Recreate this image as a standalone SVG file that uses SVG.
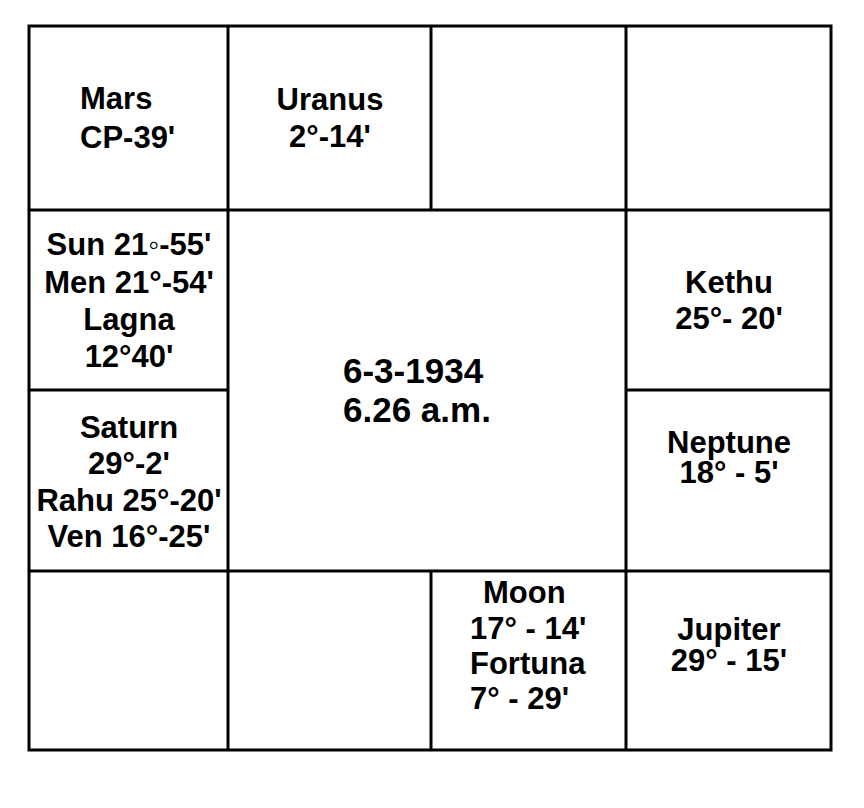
<svg xmlns="http://www.w3.org/2000/svg" width="864" height="808" viewBox="0 0 864 808">
<style>
.t{font-family:"Liberation Sans",Arial,sans-serif;font-weight:bold;font-size:31px;fill:#000}
.c{text-anchor:middle}
.big{font-size:35px}
.ln{stroke:#000;stroke-width:3;fill:none}
</style>
<rect width="864" height="808" fill="#fff"/>
<g id="grid">
<rect class="ln" x="29" y="26" width="802" height="724"/>
<line class="ln" x1="228" y1="26" x2="228" y2="750"/>
<line class="ln" x1="626" y1="26" x2="626" y2="750"/>
<line class="ln" x1="431" y1="26" x2="431" y2="210"/>
<line class="ln" x1="431" y1="571" x2="431" y2="750"/>
<line class="ln" x1="29" y1="210" x2="831" y2="210"/>
<line class="ln" x1="29" y1="571" x2="831" y2="571"/>
<line class="ln" x1="29" y1="390" x2="228" y2="390"/>
<line class="ln" x1="626" y1="390" x2="831" y2="390"/>
</g>
<g id="mars"><text class="t" x="80" y="109">Mars</text><text class="t" x="80" y="148">CP-39'</text></g>
<g id="uranus"><text class="t c" x="330" y="110">Uranus</text><text class="t c" x="330" y="147">2°-14'</text></g>
<g id="sun"><text class="t c" x="129" y="255">Sun 21◦-55'</text><text class="t c" x="129" y="293">Men 21°-54'</text><text class="t c" x="129" y="330">Lagna</text><text class="t c" x="129" y="367">12°40'</text></g>
<g id="saturn"><text class="t c" x="129" y="438">Saturn</text><text class="t c" x="129" y="474">29°-2'</text><text class="t c" x="129" y="511">Rahu 25°-20'</text><text class="t c" x="129" y="547">Ven 16°-25'</text></g>
<g id="center"><text class="t big" x="343" y="383">6-3-1934</text><text class="t big" x="343" y="422">6.26 a.m.</text></g>
<g id="kethu"><text class="t c" x="729" y="293">Kethu</text><text class="t c" x="729" y="329">25°- 20'</text></g>
<g id="neptune"><text class="t c" x="729" y="453">Neptune</text><text class="t c" x="729" y="483">18° - 5'</text></g>
<g id="jupiter"><text class="t c" x="729" y="640">Jupiter</text><text class="t c" x="729" y="671">29° - 15'</text></g>
<g id="moon"><text class="t" x="483" y="603">Moon</text><text class="t" x="470" y="639">17° - 14'</text><text class="t" x="470" y="674">Fortuna</text><text class="t" x="470" y="709">7° - 29'</text></g>
</svg>
